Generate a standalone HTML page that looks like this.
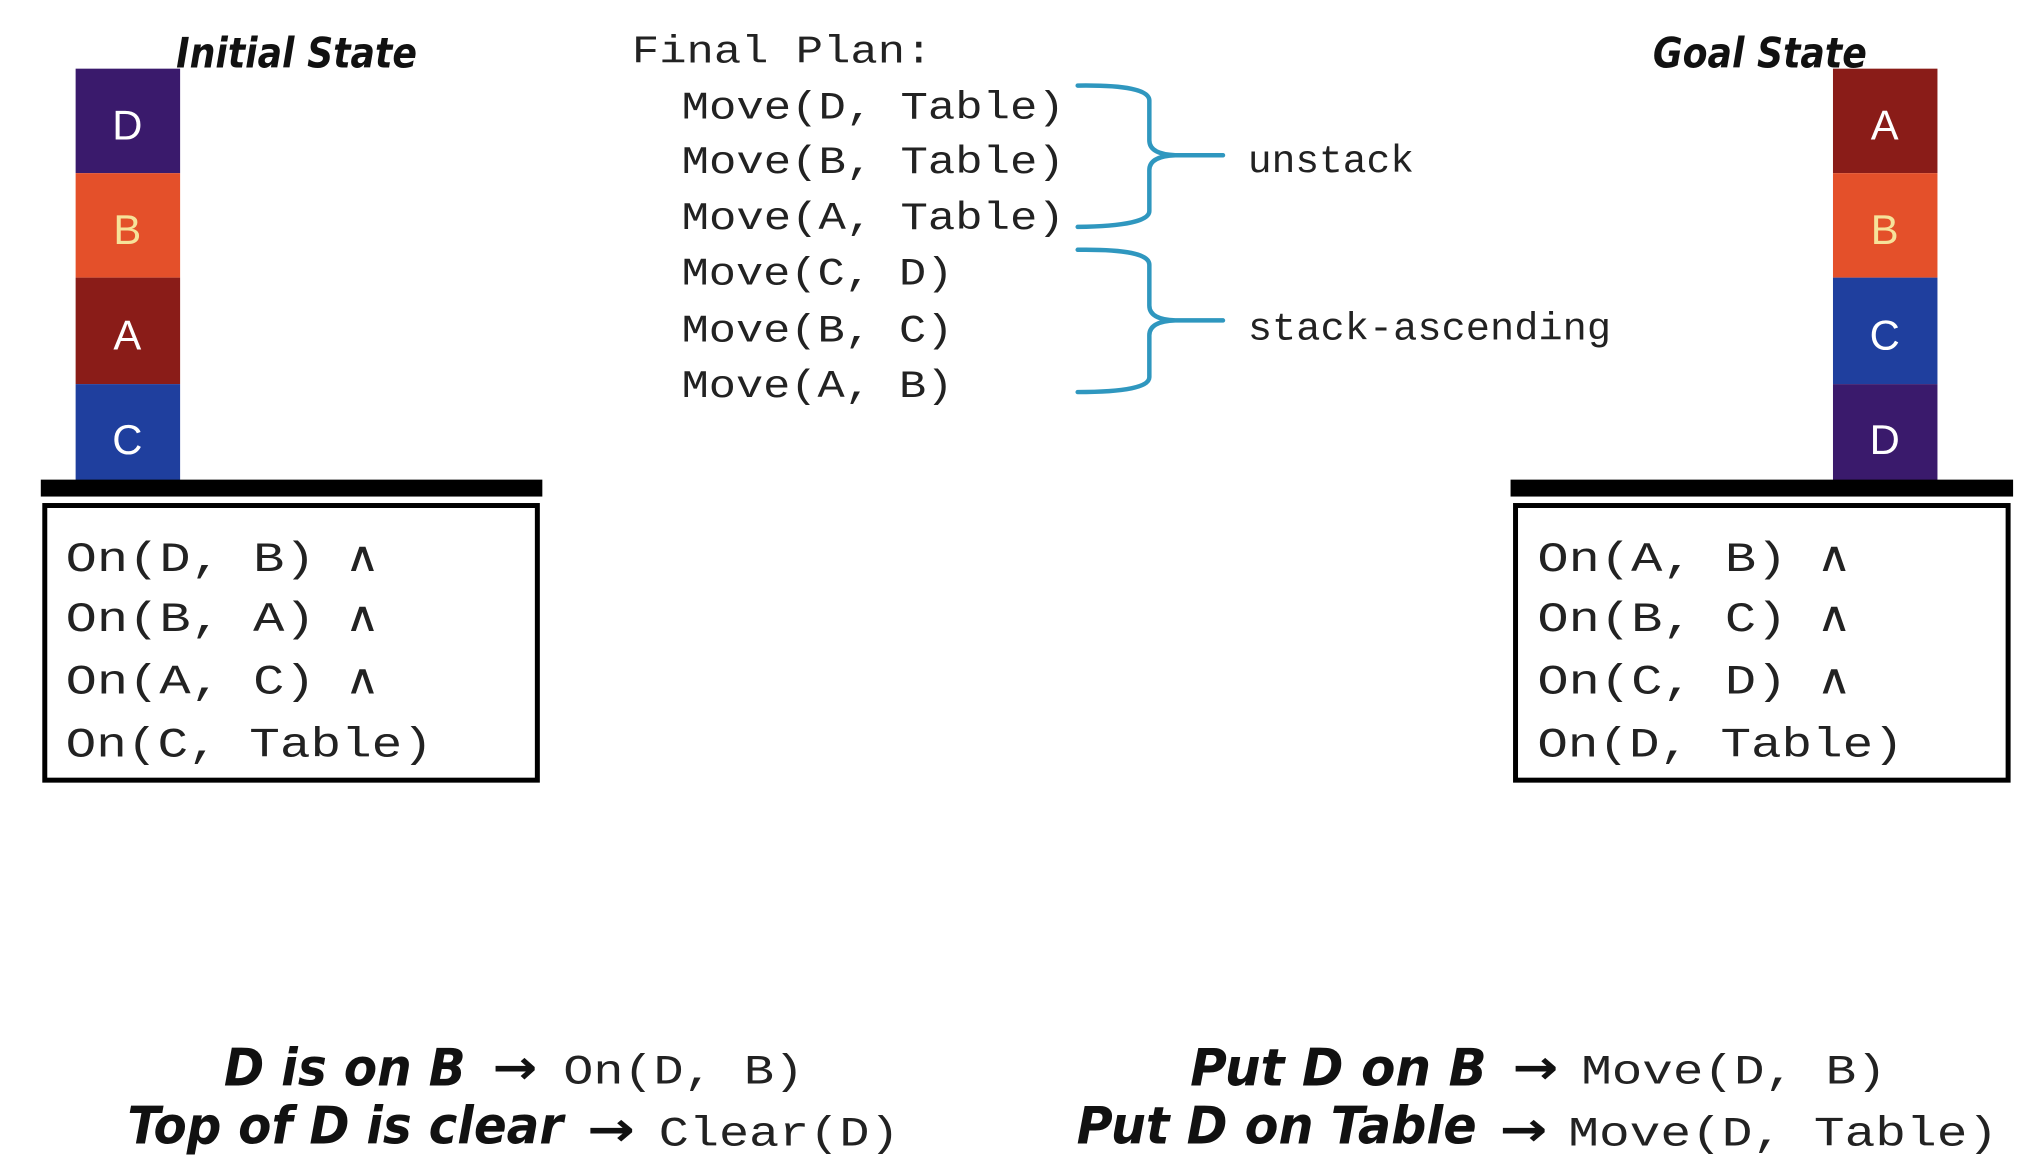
<!DOCTYPE html>
<html><head><meta charset="utf-8"><style>html,body{margin:0;padding:0;background:#fff;}svg{display:block}</style></head>
<body>
<svg width="2044" height="1166" viewBox="0 0 2044 1166" xmlns="http://www.w3.org/2000/svg">
<style>
.m{font-family:"Liberation Mono",monospace;fill:#222;}
.h{font-family:"DejaVu Sans Condensed","DejaVu Sans",sans-serif;font-style:italic;font-weight:bold;fill:#111;}
.b{font-family:"Liberation Sans",sans-serif;font-size:42px;fill:#fff;text-anchor:middle;}
</style>
<rect width="2044" height="1166" fill="#fff"/>
<g transform="scale(0.9951)">
<!-- initial stack -->
<rect x="76" y="69" width="105" height="105" fill="#3a1a6c"/>
<rect x="76" y="174" width="105" height="105" fill="#e4502a"/>
<rect x="76" y="279" width="105" height="107" fill="#8a1c18"/>
<rect x="76" y="386" width="105" height="104" fill="#1f3f9e"/>
<text class="b" x="128" y="140">D</text>
<text class="b" x="128" y="245" style="fill:#f6e29a">B</text>
<text class="b" x="128" y="351">A</text>
<text class="b" x="128" y="456">C</text>
<rect x="41" y="482" width="504" height="17" fill="#000"/>
<rect x="45" y="508" width="495" height="276" fill="none" stroke="#000" stroke-width="5"/>
<text class="h" x="177" y="68" font-size="42" textLength="242" lengthAdjust="spacingAndGlyphs">Initial State</text>
<g class="m" font-size="42">
<text x="66" y="574" textLength="314" lengthAdjust="spacingAndGlyphs">On(D, B) ∧</text>
<text x="66" y="634" textLength="314" lengthAdjust="spacingAndGlyphs">On(B, A) ∧</text>
<text x="66" y="697" textLength="314" lengthAdjust="spacingAndGlyphs">On(A, C) ∧</text>
<text x="66" y="760" textLength="369" lengthAdjust="spacingAndGlyphs">On(C, Table)</text>
</g>
<!-- goal stack -->
<rect x="1842" y="69" width="105" height="105" fill="#8a1c18"/>
<rect x="1842" y="174" width="105" height="105" fill="#e4502a"/>
<rect x="1842" y="279" width="105" height="107" fill="#1f3f9e"/>
<rect x="1842" y="386" width="105" height="104" fill="#3a1a6c"/>
<text class="b" x="1894" y="140">A</text>
<text class="b" x="1894" y="245" style="fill:#f6e29a">B</text>
<text class="b" x="1894" y="351">C</text>
<text class="b" x="1894" y="456">D</text>
<rect x="1518" y="482" width="505" height="17" fill="#000"/>
<rect x="1523" y="508" width="495" height="276" fill="none" stroke="#000" stroke-width="5"/>
<text class="h" x="1661" y="68" font-size="42" textLength="215" lengthAdjust="spacingAndGlyphs">Goal State</text>
<g class="m" font-size="42">
<text x="1545" y="574" textLength="314" lengthAdjust="spacingAndGlyphs">On(A, B) ∧</text>
<text x="1545" y="634" textLength="314" lengthAdjust="spacingAndGlyphs">On(B, C) ∧</text>
<text x="1545" y="697" textLength="314" lengthAdjust="spacingAndGlyphs">On(C, D) ∧</text>
<text x="1545" y="760" textLength="368" lengthAdjust="spacingAndGlyphs">On(D, Table)</text>
</g>
<!-- plan -->
<g class="m" font-size="39">
<text x="635" y="63" textLength="302" lengthAdjust="spacingAndGlyphs">Final Plan:</text>
<text x="685" y="119" textLength="385" lengthAdjust="spacingAndGlyphs">Move(D, Table)</text>
<text x="685" y="174" textLength="385" lengthAdjust="spacingAndGlyphs">Move(B, Table)</text>
<text x="685" y="230" textLength="385" lengthAdjust="spacingAndGlyphs">Move(A, Table)</text>
<text x="685" y="286" textLength="273" lengthAdjust="spacingAndGlyphs">Move(C, D)</text>
<text x="685" y="343" textLength="273" lengthAdjust="spacingAndGlyphs">Move(B, C)</text>
<text x="685" y="399" textLength="273" lengthAdjust="spacingAndGlyphs">Move(A, B)</text>
<text x="1254" y="173" textLength="167" lengthAdjust="spacingAndGlyphs">unstack</text>
<text x="1254" y="341" textLength="365" lengthAdjust="spacingAndGlyphs">stack-ascending</text>
</g>
<g fill="none" stroke="#2f97bf" stroke-width="4.5" stroke-linecap="round" transform="translate(6,1)">
<path d="M1077 85 Q1149 84 1149 100 L1149 140 Q1149 154 1175 155 L1223 155 M1175 155 Q1149 156 1149 170 L1149 211 Q1149 226 1077 227"/>
<path d="M1077 250 Q1149 249 1149 265 L1149 306 Q1149 320 1175 321 L1223 321 M1175 321 Q1149 322 1149 336 L1149 378 Q1149 393 1077 393"/>
</g>
<!-- bottom -->
<g font-size="52">
<text class="h" x="225" y="1091" textLength="243" lengthAdjust="spacingAndGlyphs">D is on B</text>
<text class="h" x="495" y="1089" font-size="48" textLength="45" lengthAdjust="spacingAndGlyphs">→</text>
<text class="m" x="566" y="1089" font-size="42" textLength="242" lengthAdjust="spacingAndGlyphs">On(D, B)</text>
<text class="h" x="128" y="1149" textLength="438" lengthAdjust="spacingAndGlyphs">Top of D is clear</text>
<text class="h" x="590" y="1151" font-size="48" textLength="48" lengthAdjust="spacingAndGlyphs">→</text>
<text class="m" x="662" y="1151" font-size="42" textLength="242" lengthAdjust="spacingAndGlyphs">Clear(D)</text>
<text class="h" x="1196" y="1091" textLength="298" lengthAdjust="spacingAndGlyphs">Put D on B</text>
<text class="h" x="1520" y="1089" font-size="48" textLength="46" lengthAdjust="spacingAndGlyphs">→</text>
<text class="m" x="1589" y="1089" font-size="42" textLength="307" lengthAdjust="spacingAndGlyphs">Move(D, B)</text>
<text class="h" x="1082" y="1149" textLength="402" lengthAdjust="spacingAndGlyphs">Put D on Table</text>
<text class="h" x="1507" y="1151" font-size="48" textLength="48" lengthAdjust="spacingAndGlyphs">→</text>
<text class="m" x="1576" y="1151" font-size="42" textLength="432" lengthAdjust="spacingAndGlyphs">Move(D, Table)</text>
</g>
</g>
</svg>
</body></html>
